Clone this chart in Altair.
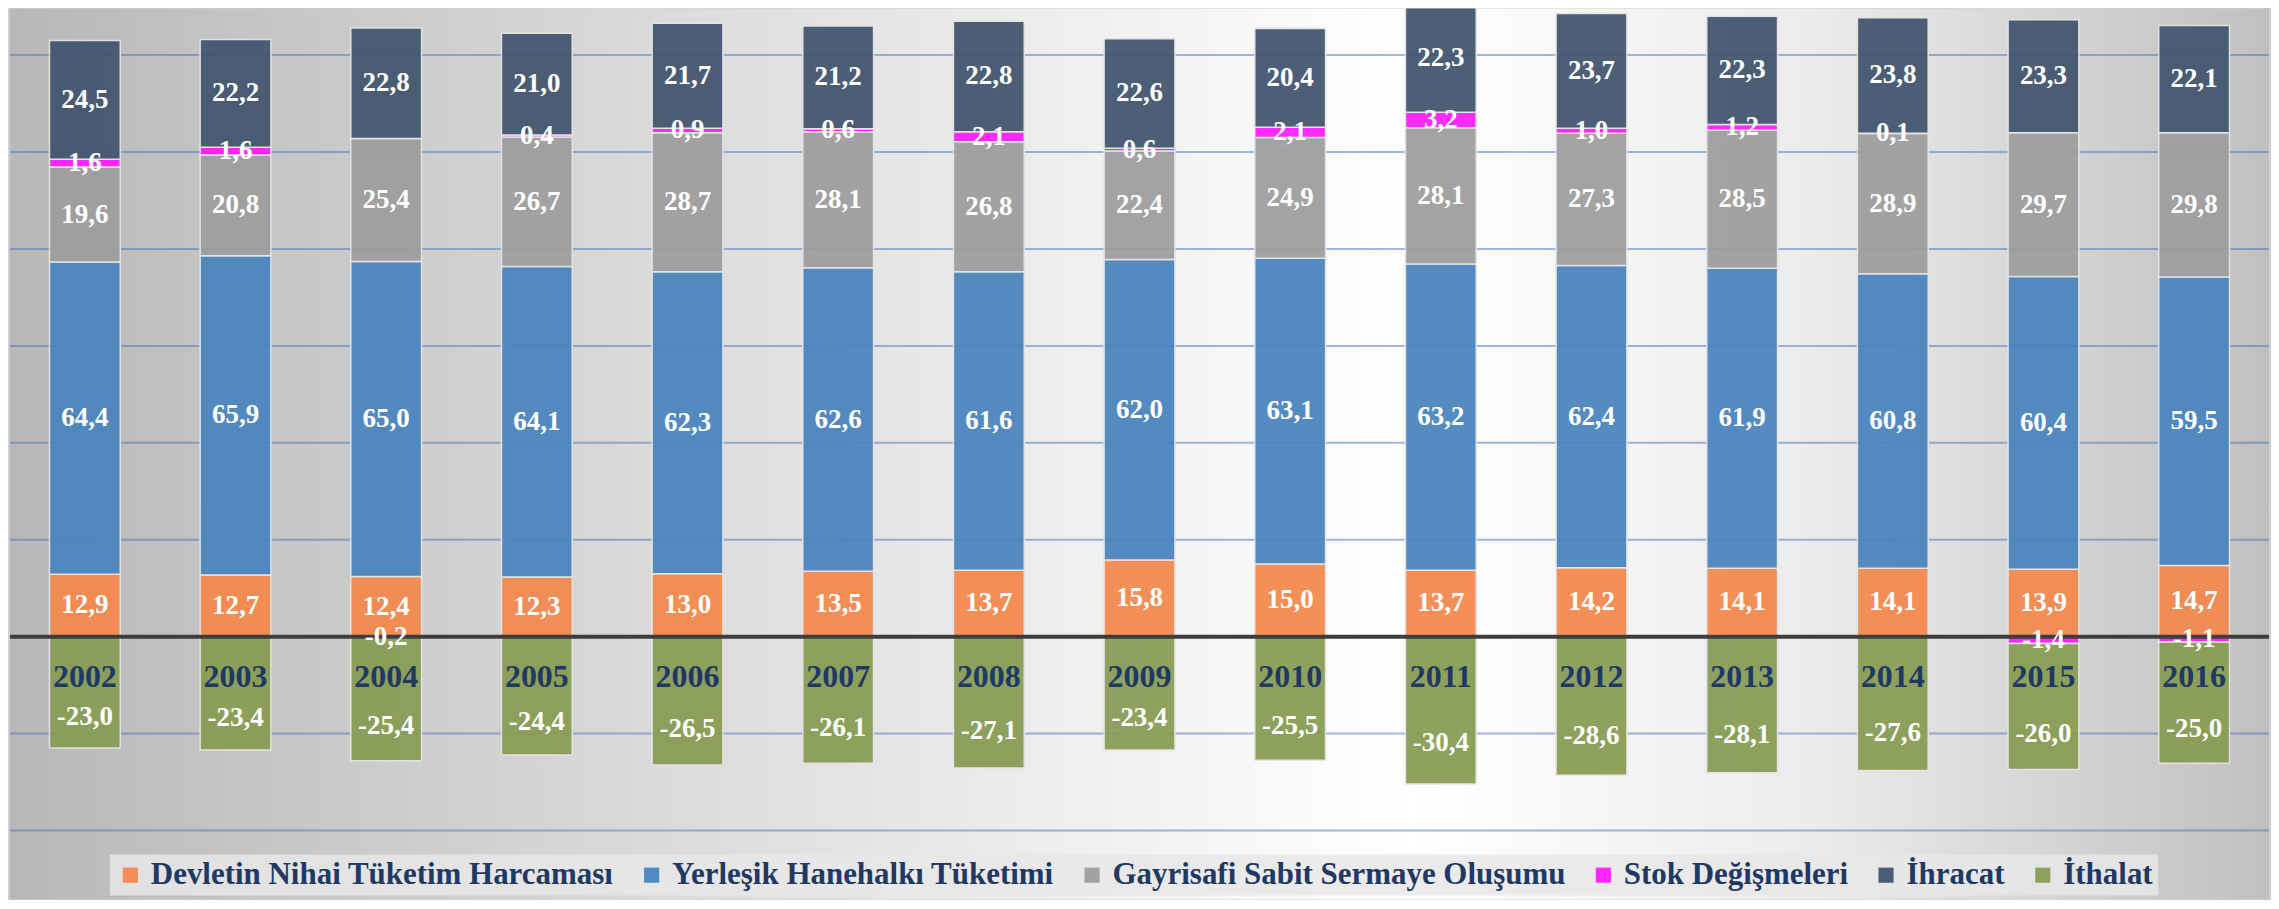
import altair as alt
import pandas as pd

FONT = "Liberation Serif"

years = [2002, 2003, 2004, 2005, 2006, 2007, 2008, 2009, 2010, 2011, 2012, 2013, 2014, 2015, 2016]
series = ["Devletin Nihai Tüketim Harcaması", "Yerleşik Hanehalkı Tüketimi",
          "Gayrisafi Sabit Sermaye Oluşumu", "Stok Değişmeleri", "İhracat", "İthalat"]
colors = ["#F4894E", "#4A85BE", "#9E9E9E", "#FF1EFF", "#42566F", "#889D55"]

devlet = [12.9, 12.7, 12.4, 12.3, 13.0, 13.5, 13.7, 15.8, 15.0, 13.7, 14.2, 14.1, 14.1, 13.9, 14.7]
hanehalki = [64.4, 65.9, 65.0, 64.1, 62.3, 62.6, 61.6, 62.0, 63.1, 63.2, 62.4, 61.9, 60.8, 60.4, 59.5]
gsso = [19.6, 20.8, 25.4, 26.7, 28.7, 28.1, 26.8, 22.4, 24.9, 28.1, 27.3, 28.5, 28.9, 29.7, 29.8]
stok = [1.6, 1.6, -0.2, 0.4, 0.9, 0.6, 2.1, 0.6, 2.1, 3.2, 1.0, 1.2, 0.1, -1.4, -1.1]
ihracat = [24.5, 22.2, 22.8, 21.0, 21.7, 21.2, 22.8, 22.6, 20.4, 22.3, 23.7, 22.3, 23.8, 23.3, 22.1]
ithalat = [-23.0, -23.4, -25.4, -24.4, -26.5, -26.1, -27.1, -23.4, -25.5, -30.4, -28.6, -28.1, -27.6, -26.0, -25.0]

grid_values = [-40, -20, 20, 40, 60, 80, 100, 120]

all_vals = [devlet, hanehalki, gsso, stok, ihracat, ithalat]
rows = []
for i, yr in enumerate(years):
    for k, (name, vals) in enumerate(zip(series, all_vals)):
        v = vals[i]
        rows.append({"year": str(yr), "series": name, "ord": k, "value": v,
                     "label": f"{v:.1f}".replace(".", ",")})
df = pd.DataFrame(rows)

W = 2262
H = 823
TOTAL_H = 892
yscale = alt.Scale(domain=[-40, 129.6], nice=False, zero=False)
xenc = alt.X("year:N", axis=None, sort=[str(y) for y in years],
             scale=alt.Scale(paddingInner=0.53, paddingOuter=0.262))

bg = alt.Chart(pd.DataFrame({"k": [0]})).mark_rect(
    color=alt.LinearGradient(
        gradient="linear", x1=0, x2=1, y1=0, y2=0,
        stops=[alt.GradientStop(color="#b8b8b8", offset=0),
               alt.GradientStop(color="#dcdcdc", offset=0.3),
               alt.GradientStop(color="#ffffff", offset=0.62),
               alt.GradientStop(color="#ebebeb", offset=0.8),
               alt.GradientStop(color="#c0c0c0", offset=1)])
).encode(x=alt.value(0), x2=alt.value(W), y=alt.value(0), y2=alt.value(TOTAL_H))

grid = alt.Chart(pd.DataFrame({"g": grid_values})).mark_rule(
    color="#4472C4", strokeWidth=2, opacity=0.5
).encode(y=alt.Y("g:Q", scale=yscale, axis=None))

bars = alt.Chart(df).mark_bar(
    stroke="#e4e4e4", strokeWidth=1.5, opacity=0.94, clip=True
).encode(
    x=xenc,
    y=alt.Y("value:Q", scale=yscale, axis=None, stack="zero"),
    color=alt.Color("series:N", scale=alt.Scale(domain=series, range=colors),
                    legend=alt.Legend(
                        orient="none", legendX=100, legendY=847, direction="horizontal",
                        title=None, labelFont=FONT, labelFontSize=31, labelFontWeight="bold",
                        labelColor="#1F3864", symbolType="square", symbolSize=230,
                        symbolStrokeWidth=0, symbolOpacity=0.95, columnPadding=22,
                        labelLimit=1000, labelOffset=5, padding=5,
                        fillColor="rgba(232,232,232,0.85)")),
    order=alt.Order("ord:Q"),
)

zero = alt.Chart(pd.DataFrame({"z": [0]})).mark_rule(
    color="#3d3d3d", strokeWidth=4
).encode(y=alt.Y("z:Q", scale=yscale, axis=None))

labels = alt.Chart(df).transform_stack(
    stack="value", groupby=["year"], as_=["v0", "v1"],
    sort=[alt.SortField("ord", order="ascending")]
).transform_calculate(
    ypos="datum.series == 'İthalat' ? datum.v0 + 0.72 * (datum.v1 - datum.v0) : (datum.v0 + datum.v1) / 2"
).mark_text(
    font=FONT, fontSize=27, fontWeight="bold", color="white", baseline="middle"
).encode(
    x=xenc,
    y=alt.Y("ypos:Q", scale=yscale, axis=None),
    text="label:N",
)

year_labels = alt.Chart(pd.DataFrame({"year": [str(y) for y in years]})).mark_text(
    font=FONT, fontSize=32, fontWeight="bold", color="#1F3864", baseline="middle"
).encode(
    x=xenc,
    y=alt.datum(-8.4),
    text="year:N",
)

chart = alt.layer(bg, grid, bars, zero, labels, year_labels).properties(
    width=W, height=H, padding=0,
    autosize=alt.AutoSizeParams(type="pad"),
    background="#d0d0d0",
).configure_view(strokeWidth=0)

chart.save("out.html", embed_options={"renderer": "svg", "actions": False})
